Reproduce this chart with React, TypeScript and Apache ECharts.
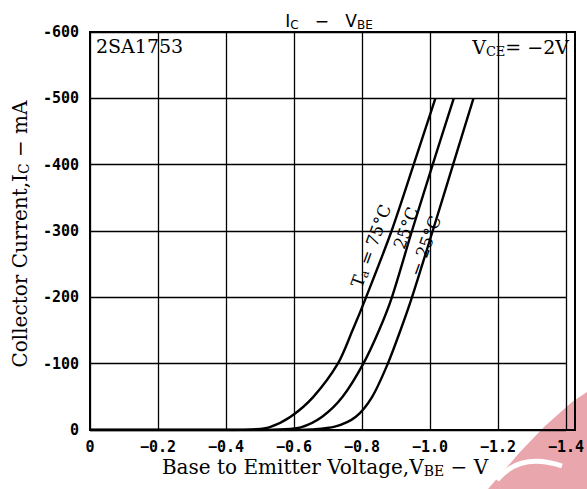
import React, { useEffect, useRef } from "react";
import * as echarts from "echarts";

const xTicks = [0, -0.2, -0.4, -0.6, -0.8, -1.0, -1.2, -1.4];
const yTicks = [0, -100, -200, -300, -400, -500, -600];

const curve75: [number, number][] = [
  [0, 0], [-0.42, 0], [-0.48, -1], [-0.527, -4], [-0.59, -20], [-0.657, -50],
  [-0.729, -100], [-0.772, -150], [-0.812, -200], [-0.887, -300], [-0.952, -400], [-1.016, -500],
];
const curve25: [number, number][] = [
  [0, 0], [-0.5, 0], [-0.56, -1], [-0.62, -4], [-0.683, -20], [-0.743, -50],
  [-0.804, -100], [-0.85, -150], [-0.888, -200], [-0.947, -300], [-1.008, -400], [-1.07, -500],
];
const curveM25: [number, number][] = [
  [0, 0], [-0.58, 0], [-0.65, -1], [-0.72, -5], [-0.782, -20], [-0.83, -50],
  [-0.876, -100], [-0.913, -150], [-0.947, -200], [-1.008, -300], [-1.068, -400], [-1.128, -500],
];

const serif = "DejaVu Serif";
const sans = "DejaVu Sans";
const mono = "DejaVu Sans Mono";

export default function App() {
  const ref = useRef<HTMLDivElement>(null);
  useEffect(() => {
    if (!ref.current) return;
    const chart = echarts.init(ref.current, undefined, { renderer: "svg" });
    const lineSeries = (data: [number, number][]) => ({
      type: "line",
      data,
      smooth: 0.3,
      showSymbol: false,
      z: 3,
      lineStyle: { color: "#000", width: 2.4 },
    });
    const rich = (size: number) => ({
      m: { fontFamily: serif, fontSize: size, fill: "#000" },
      s: { fontFamily: serif, fontSize: Math.round(size * 0.68), fill: "#000", padding: [Math.round(size * 0.4), 0, 0, 0] },
    });
    chart.setOption({
      animation: false,
      backgroundColor: "#fff",
      grid: { left: 90, right: 12, top: 32, bottom: 59 },
      xAxis: {
        type: "value",
        min: -1.4,
        max: 0,
        interval: 0.2,
        inverse: true,
        axisLine: { show: true, onZero: false, lineStyle: { color: "#000", width: 2 } },
        axisTick: { show: false },
        splitLine: { show: true, lineStyle: { color: "#000", width: 1.3 } },
        axisLabel: {
          color: "#000",
          fontFamily: mono,
          fontSize: 15,
          fontWeight: "bold",
          margin: 9,
          formatter: (v: number) => {
            const t = xTicks.find((k) => Math.abs(k - v) < 1e-6);
            if (t === undefined) return "";
            return t === 0 ? "0" : "−" + Math.abs(t).toFixed(1);
          },
        },
      },
      yAxis: {
        type: "value",
        min: -600,
        max: 0,
        interval: 100,
        inverse: true,
        axisLine: { show: true, onZero: false, lineStyle: { color: "#000", width: 2 } },
        axisTick: { show: false },
        splitLine: { show: true, lineStyle: { color: "#000", width: 1.3 } },
        axisLabel: {
          color: "#000",
          fontFamily: mono,
          fontSize: 15,
          fontWeight: "bold",
          margin: 11,
          formatter: (v: number) => {
            const t = yTicks.find((k) => Math.abs(k - v) < 1e-6);
            if (t === undefined) return "";
            return t === 0 ? "0" : "-" + Math.abs(t);
          },
        },
      },
      series: [lineSeries(curve75), lineSeries(curve25), lineSeries(curveM25)],
      graphic: [
        {
          type: "polygon",
          z: -10,
          silent: true,
          shape: { points: [[488, 489], [520, 452], [545, 426], [572, 402], [587, 392], [587, 489]] },
          style: { fill: "#eaa6ad" },
        },
        {
          type: "bezierCurve",
          z: -9,
          silent: true,
          shape: { x1: 497, y1: 480, cpx1: 520, cpy1: 452, x2: 562, y2: 466 },
          style: { stroke: "#fff", lineWidth: 5, fill: "none" },
        },
        {
          type: "rect",
          shape: { x: 90, y: 32, width: 485, height: 398 },
          style: { fill: "none", stroke: "#000", lineWidth: 2 },
          silent: true,
          z: 2,
        },
        {
          type: "text",
          x: 329,
          y: 21,
          style: {
            text: "{m|I}{s|C}{m|   −   V}{s|BE}",
            align: "center",
            verticalAlign: "middle",
            fill: "#000",
            rich: {
              m: { fontFamily: sans, fontSize: 17, fill: "#000" },
              s: { fontFamily: sans, fontSize: 12, fill: "#000", padding: [8, 0, 0, 0] },
            },
          },
        },
        {
          type: "text",
          x: 96,
          y: 46,
          style: {
            text: "2SA1753",
            fontFamily: serif,
            fontSize: 19,
            fill: "#000",
            align: "left",
            verticalAlign: "middle",
          },
        },
        {
          type: "text",
          x: 569,
          y: 47,
          style: {
            text: "{m|V}{s|CE}{m|= −2V}",
            align: "right",
            verticalAlign: "middle",
            rich: rich(19),
          },
        },
        {
          type: "text",
          x: 371,
          y: 246,
          rotation: (70 * Math.PI) / 180,
          style: {
            text: "{m|T}{s|a}{m| = 75°C}",
            align: "center",
            verticalAlign: "middle",
            rich: rich(17),
          },
        },
        {
          type: "text",
          x: 406,
          y: 228,
          rotation: (70 * Math.PI) / 180,
          style: {
            text: "25°C",
            fontFamily: serif,
            fontSize: 17,
            fill: "#000",
            align: "center",
            verticalAlign: "middle",
          },
        },
        {
          type: "text",
          x: 425,
          y: 246,
          rotation: (70 * Math.PI) / 180,
          style: {
            text: "− 25°C",
            fontFamily: serif,
            fontSize: 17,
            fill: "#000",
            align: "center",
            verticalAlign: "middle",
          },
        },
        {
          type: "text",
          x: 20,
          y: 234,
          rotation: Math.PI / 2,
          style: {
            text: "{m|Collector Current,I}{s|C}{m| − mA}",
            align: "center",
            verticalAlign: "middle",
            rich: rich(20),
          },
        },
        {
          type: "text",
          x: 325,
          y: 467,
          style: {
            text: "{m|Base to Emitter Voltage,V}{s|BE}{m| − V}",
            align: "center",
            verticalAlign: "middle",
            rich: rich(20),
          },
        },
      ],
    });
    return () => chart.dispose();
  }, []);
  return <div ref={ref} style={{ width: 587, height: 489, position: "absolute", left: 0, top: 0 }} />;
}
